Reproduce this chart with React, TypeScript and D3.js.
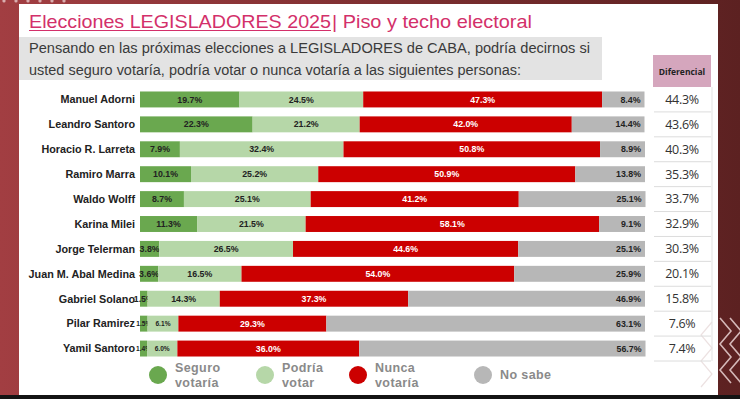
import { scaleBand, scaleLinear, stack } from "d3";

const names = [
  "Manuel Adorni",
  "Leandro Santoro",
  "Horacio R. Larreta",
  "Ramiro Marra",
  "Waldo Wolff",
  "Karina Milei",
  "Jorge Telerman",
  "Juan M. Abal Medina",
  "Gabriel Solano",
  "Pilar Ramirez",
  "Yamil Santoro",
];

const seguro = [19.7, 22.3, 7.9, 10.1, 8.7, 11.3, 3.8, 3.6, 1.5, 1.5, 1.4];
const podria = [24.5, 21.2, 32.4, 25.2, 25.1, 21.5, 26.5, 16.5, 14.3, 6.1, 6.0];
const nunca = [47.3, 42.0, 50.8, 50.9, 41.2, 58.1, 44.6, 54.0, 37.3, 29.3, 36.0];
const noSabe = [8.4, 14.4, 8.9, 13.8, 25.1, 9.1, 25.1, 25.9, 46.9, 63.1, 56.7];
const diferencial = [44.3, 43.6, 40.3, 35.3, 33.7, 32.9, 30.3, 20.1, 15.8, 7.6, 7.4];

const seriesKeys = ["seguro", "podria", "nunca", "noSabe"];
const seriesColors = ["#6aa84f", "#b6d7a8", "#cc0000", "#b7b7b7"];
const legendLabels = [["Seguro", "votaría"], ["Podría", "votar"], ["Nunca", "votaría"], ["No sabe"]];

const W = 740;
const H = 399;

export default function App() {
  const rows = names.map((name, i) => ({
    name,
    seguro: seguro[i],
    podria: podria[i],
    nunca: nunca[i],
    noSabe: noSabe[i],
  }));
  const stacked = stack<any>().keys(seriesKeys)(rows);

  const x = scaleLinear().domain([0, 100]).range([140, 645]);
  const y = scaleBand().domain(names).range([87, 361]).paddingInner(0.36).paddingOuter(0.18);
  const bw = y.bandwidth();
  const step = y.step();

  const legendX = [158, 265, 358, 483];
  const fontMain = "'Liberation Sans', Arial, Helvetica, sans-serif";

  // zigzag decoration bottom-right
  const zig = (x0: number, x1: number, y0: number, y1: number, period: number) => {
    const pts: string[] = [];
    let k = 0;
    for (let yy = y0; yy <= y1; yy += period / 2) {
      pts.push(`${k % 2 === 0 ? x0 : x1},${yy}`);
      k++;
    }
    return pts.join(" ");
  };

  return (
    <svg
      width={W}
      height={H}
      viewBox={`0 0 ${W} ${H}`}
      style={{ position: "absolute", left: 0, top: 0, fontFamily: fontMain }}
    >
      <defs>
        <linearGradient id="bg" x1="0" x2="1" y1="0" y2="0">
          <stop offset="0" stopColor="#a23e42" />
          <stop offset="1" stopColor="#5c2121" />
        </linearGradient>
      </defs>
      <rect x={0} y={0} width={W} height={H} fill="url(#bg)" />
      <rect x={0} y={395} width={W} height={4} fill="#141414" />
      {[4, 16, 28, 40, 52, 64].map((d) => (
        <circle key={d} cx={d} cy={1} r={1.6} fill="#e8c9c9" opacity={0.8} />
      ))}

      {/* zigzags */}
      <g fill="none" stroke="#e9d2d2" strokeWidth={1.6} opacity={0.85}>
        <polyline points={zig(720, 731, 318, 395, 26)} />
        <polyline points={zig(730, 741, 318, 395, 26)} />
      </g>

      {/* panel */}
      <rect x={19} y={4} width={699} height={391} fill="#ffffff" />
      <g fill="none" stroke="#eadede" strokeWidth={1.2} opacity={0.9}>
        <polyline points={zig(712, 701, 322, 395, 26)} />
      </g>

      {/* title */}
      <text x={29} y={28} fontSize={19} fill="#d3306a" textLength={302} lengthAdjust="spacingAndGlyphs">
        Elecciones LEGISLADORES 2025
      </text>
      <line x1={29} x2={331} y1={30.5} y2={30.5} stroke="#d3306a" strokeWidth={1} />
      <text x={332} y={28} fontSize={19} fill="#d3306a" textLength={200} lengthAdjust="spacingAndGlyphs">
        | Piso y techo electoral
      </text>

      {/* subtitle */}
      <rect x={19} y={37} width={583} height={43} fill="#e3e3e3" />
      <text x={29} y={53} fontSize={15.5} fill="#3a3a3a" textLength={561} lengthAdjust="spacingAndGlyphs">
        Pensando en las próximas elecciones a LEGISLADORES de CABA, podría decirnos si
      </text>
      <text x={29} y={75} fontSize={15.5} fill="#3a3a3a" textLength={492} lengthAdjust="spacingAndGlyphs">
        usted seguro votaría, podría votar o nunca votaría a las siguientes personas:
      </text>

      {/* diferencial header */}
      <rect x={653} y={55} width={58} height={32} fill="#d5a6bd" />
      <text
        x={682}
        y={75}
        fontSize={8.5}
        fontWeight={700}
        textAnchor="middle"
        fill="#222"
        fontFamily="'Open Sans', sans-serif"
      >
        Diferencial
      </text>

      {/* bars */}
      {stacked.map((series, si) => (
        <g key={seriesKeys[si]}>
          {series.map((d, i) => {
            const x0 = x(d[0]);
            const x1 = x(d[1]);
            const yy = y(names[i])!;
            const v = d[1] - d[0];
            const small = seguro[i] + podria[i] < 10;
            const tx = si === 3 ? x1 - 4 : (x0 + x1) / 2;
            return (
              <g key={i}>
                <rect x={x0} y={yy} width={x1 - x0} height={bw} fill={seriesColors[si]} />
                <text
                  x={tx}
                  y={yy + bw / 2}
                  dy="0.35em"
                  textAnchor={si === 3 ? "end" : "middle"}
                  fontSize={small && si < 2 ? 6.6 : 8.8}
                  fontWeight={700}
                  fill={si === 2 ? "#ffffff" : "#222"}
                >
                  {v.toFixed(1)}%
                </text>
              </g>
            );
          })}
        </g>
      ))}

      {/* names */}
      {names.map((n) => (
        <text
          key={n}
          x={135}
          y={y(n)! + bw / 2}
          dy="0.35em"
          textAnchor="end"
          fontSize={10.8}
          fontWeight={700}
          fill="#222"
        >
          {n}
        </text>
      ))}

      {/* diferencial column */}
      <line x1={712} x2={712} y1={87} y2={361} stroke="#e3e3e3" />
      {names.map((n, i) => {
        const c = y(n)! + bw / 2;
        return (
          <g key={n}>
            <line x1={654} x2={711} y1={c + step / 2} y2={c + step / 2} stroke="#dcdcdc" />
            <text
              x={682}
              y={c}
              dy="0.35em"
              textAnchor="middle"
              fontSize={12.5}
              fill="#333"
              fontFamily="'Open Sans', sans-serif"
              letterSpacing={-0.3}
            >
              {diferencial[i].toFixed(1)}%
            </text>
          </g>
        );
      })}

      {/* legend */}
      {legendLabels.map((lines, i) => (
        <g key={i}>
          <circle cx={legendX[i]} cy={375} r={9} fill={seriesColors[i]} />
          {lines.map((t, j) => (
            <text
              key={t}
              x={legendX[i] + 17}
              y={lines.length === 1 ? 379 : 372 + j * 15}
              fontSize={12.5}
              fontWeight={700}
              fill="#8a8a8a"
              letterSpacing={0.4}
            >
              {t}
            </text>
          ))}
        </g>
      ))}
    </svg>
  );
}
